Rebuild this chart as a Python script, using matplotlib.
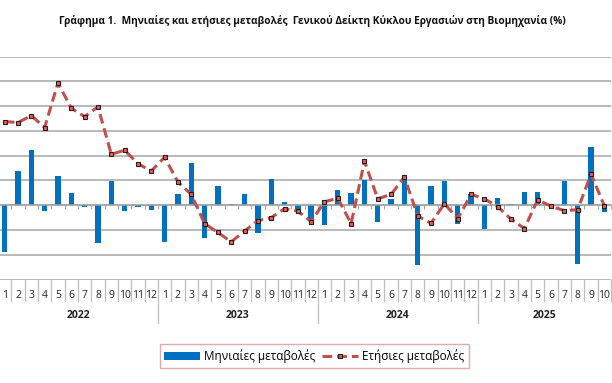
import numpy as np
import matplotlib
matplotlib.use("Agg")
import matplotlib.pyplot as plt
from matplotlib.transforms import blended_transform_factory

plt.rcParams['font.family'] = ['Open Sans', 'DejaVu Sans']

title = "Γράφημα 1.  Μηνιαίες και ετήσιες μεταβολές  Γενικού Δείκτη Κύκλου Εργασιών στη Βιομηχανία (%)"
years = ['2022', '2023', '2024', '2025']
months_per_year = [12, 12, 12, 10]
series_monthly_name = "Μηνιαίες μεταβολές"
series_annual_name = "Ετήσιες μεταβολές"

monthly = [
    -9.4, 7.0, 11.1, -1.2, 6.0, 2.5, -0.4, -7.7, 4.8, -1.2, -0.3, -1.0,
    -7.5, 2.3, 8.5, -6.7, 3.8, 0.3, 2.3, -5.7, 5.3, 0.6, -1.3, -3.0,
    -3.9, 3.1, 2.5, 5.1, -3.3, 1.3, 5.5, -12.1, 3.9, 4.9, -3.7, 2.3,
    -4.7, 1.5, 0.3, 2.7, 2.7, 0.0, 4.9, -11.9, 11.7, -1.4,
]
annual = [
    16.9, 16.7, 18.1, 15.7, 24.7, 19.6, 17.9, 19.9, 10.3, 11.1, 8.4, 6.9,
    9.7, 4.7, 2.2, -3.7, -5.5, -7.4, -5.2, -3.1, -2.5, -0.7, -1.2, -3.3,
    0.7, 1.4, -3.7, 8.9, 1.3, 2.2, 5.7, -2.2, -3.6, 0.3, -2.7, 2.2,
    1.3, -0.3, -2.8, -4.7, 1.1, -0.2, -1.1, -0.9, 6.3, -0.1,
]

month_labels = []
for n in months_per_year:
    month_labels += [str(m) for m in range(1, n + 1)]
n_pts = len(month_labels)
x = np.arange(n_pts)

W, H = 612, 383
fig = plt.figure(figsize=(W / 100, H / 100), dpi=100)
ax_top, ax_bot = 56.7, 279.5
ax_h_px = ax_bot - ax_top
ax = fig.add_axes([-2 / W, 1 - ax_bot / H, 613 / W, ax_h_px / H])

grid_c = '#A6A6A6'
bars = ax.bar(x, monthly, width=0.4, color='#0070C0', zorder=2, label=series_monthly_name)
line, = ax.plot(x, annual, color='#C0504D', lw=2.2, ls=(0, (3.2, 1.6)),
                marker='s', ms=3.3, mfc='#E06060', mec='#2b1b1b', mew=0.8,
                zorder=3, label=series_annual_name)

ax.set_xlim(-0.5, n_pts - 0.5)
ax.set_ylim(-15, 30)
ax.set_yticks(np.arange(-15, 31, 5))
ax.yaxis.grid(True, color=grid_c, lw=1.1)
ax.set_axisbelow(True)
ax.tick_params(axis='y', left=False, labelleft=False)
for s in ['top', 'right', 'left']:
    ax.spines[s].set_visible(False)
ax.spines['bottom'].set_position(('data', 0))
ax.spines['bottom'].set_color(grid_c)
ax.spines['bottom'].set_linewidth(1.1)
ax.set_xticks(np.arange(-0.5, n_pts, 1))
ax.tick_params(axis='x', direction='out', length=3, color=grid_c, width=0.8,
               labelbottom=False)

trans = blended_transform_factory(ax.transData, ax.transAxes)
sep_c = '#BFBFBF'
short = -21.7 / ax_h_px
long_ = -43.3 / ax_h_px
for i, lab in enumerate(month_labels):
    ax.text(i, -16.5 / ax_h_px, lab, transform=trans, ha='center', va='center',
            fontsize=7.5, color='#222222', clip_on=False)

year_bounds = np.cumsum([0] + months_per_year) - 0.5
for b in np.arange(-0.5, n_pts, 1):
    is_year = any(abs(b - yb) < 1e-6 for yb in year_bounds[:-1])
    ax.plot([b, b], [0, long_ if is_year else short], transform=trans,
            color=sep_c, lw=0.9, clip_on=False)
for k, yr in enumerate(years):
    c = (year_bounds[k] + year_bounds[k + 1]) / 2
    ax.text(c, -36.5 / ax_h_px, yr, transform=trans, ha='center', va='center',
            fontsize=7.5, fontweight='bold', color='#222222', clip_on=False)

fig.text(312 / W, 1 - 21 / H, title, ha='center', va='center',
         fontsize=7.3, fontweight='bold', color='#111111')

leg = fig.legend([bars, line], [series_monthly_name, series_annual_name],
                 loc='center', bbox_to_anchor=(314 / W, 1 - 356 / H), ncol=2,
                 frameon=True, fancybox=False, edgecolor='#D99694',
                 fontsize=8.5, handlelength=3, handleheight=0.6,
                 handletextpad=0.35, columnspacing=0.6, borderpad=0.4)
leg.get_frame().set_linewidth(1.0)

fig.savefig('out.png', dpi=100)
